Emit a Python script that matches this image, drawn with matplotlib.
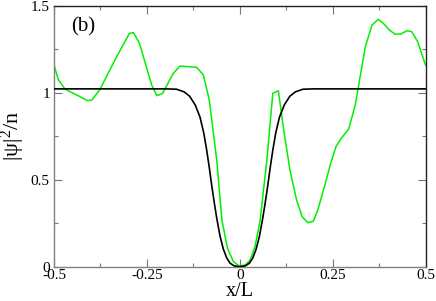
import matplotlib
matplotlib.use("Agg")
import matplotlib.pyplot as plt
from matplotlib.ticker import MultipleLocator

# Green curve (x/L, |psi|^2/n)
green_x = [-0.5, -0.488, -0.470, -0.439, -0.410, -0.398, -0.376, -0.336, -0.297, -0.286,
           -0.270, -0.237, -0.223, -0.208, -0.179, -0.161, -0.116, -0.098, -0.082, -0.062,
           -0.048, -0.033, -0.017, -0.001, 0.015, 0.028, 0.041, 0.055, 0.073, 0.089,
           0.104, 0.117, 0.135, 0.153, 0.168, 0.183, 0.198, 0.210, 0.228, 0.246,
           0.259, 0.273, 0.293, 0.311, 0.338, 0.356, 0.373, 0.385, 0.403, 0.418,
           0.434, 0.450, 0.463, 0.479, 0.5]
green_y = [1.159, 1.073, 1.020, 0.987, 0.954, 0.958, 1.020, 1.188, 1.341, 1.345,
           1.284, 1.044, 0.983, 0.995, 1.111, 1.153, 1.146, 1.102, 0.958, 0.613,
           0.268, 0.106, 0.029, 0.004, 0.010, 0.039, 0.115, 0.268, 0.613, 0.997,
           1.011, 0.805, 0.556, 0.383, 0.287, 0.253, 0.261, 0.326, 0.460, 0.603,
           0.690, 0.738, 0.790, 0.930, 1.264, 1.389, 1.422, 1.402, 1.360, 1.336,
           1.337, 1.356, 1.351, 1.293, 1.159]

# Black curve (x/L, |psi|^2/n)
black_x = [-0.5, -0.2, -0.17, -0.15, -0.135, -0.12, -0.107, -0.097, -0.089, -0.082,
           -0.075, -0.068, -0.062, -0.053, -0.044, -0.035, -0.026, -0.015, 0.0,
           0.015, 0.026, 0.035, 0.044, 0.053, 0.062, 0.068, 0.075, 0.082, 0.089,
           0.097, 0.107, 0.12, 0.135, 0.15, 0.17, 0.2, 0.5]
black_y = [1.022, 1.022, 1.020, 1.005, 0.980, 0.930, 0.860, 0.770, 0.670, 0.570,
           0.460, 0.360, 0.280, 0.175, 0.100, 0.050, 0.020, 0.005, 0.0,
           0.005, 0.020, 0.050, 0.100, 0.175, 0.280, 0.360, 0.460, 0.570, 0.670,
           0.770, 0.860, 0.930, 0.980, 1.005, 1.020, 1.022, 1.022]

x_ticks = [-0.5, -0.25, 0, 0.25, 0.5]
x_tick_labels = ["-0.5", "-0.25", "0", "0.25", "0.5"]
y_ticks = [0, 0.5, 1, 1.5]
y_tick_labels = ["0", "0.5", "1", "1.5"]

plt.rcParams['font.family'] = ['Liberation Serif', 'DejaVu Serif']
plt.rcParams['mathtext.fontset'] = 'custom'
plt.rcParams['mathtext.rm'] = 'Liberation Serif'
plt.rcParams['mathtext.it'] = 'Liberation Serif:italic'

fig = plt.figure(figsize=(4.36, 3.01), dpi=100)
ax = fig.add_axes([54/436, 1-266.7/301, (425.5-54)/436, (266.7-5.7)/301])

ax.plot(black_x, black_y, color='black', lw=1.2, zorder=3)
ax.plot(green_x, green_y, color='#00f000', lw=1.1, zorder=2)

ax.set_xlim(-0.5, 0.5)
ax.set_ylim(0, 1.5)
ax.set_xticks(x_ticks)
ax.set_xticklabels(x_tick_labels)
ax.set_yticks(y_ticks)
ax.set_yticklabels(y_tick_labels)
ax.xaxis.set_minor_locator(MultipleLocator(0.125))
ax.yaxis.set_minor_locator(MultipleLocator(0.25))
ax.tick_params(which='both', direction='in', top=True, right=True,
               labelsize=11, color='#777777', width=0.8)
ax.tick_params(which='major', length=6)
ax.tick_params(which='minor', length=3)
ax.tick_params(axis='x', pad=2)
ax.tick_params(axis='y', pad=3)

for s in ['left', 'bottom']:
    ax.spines[s].set_color('#808080')
    ax.spines[s].set_linewidth(1.0)
for s in ['top', 'right']:
    ax.spines[s].set_color('#222222')
    ax.spines[s].set_linewidth(1.0)

ax.set_xlabel('x/L', fontsize=14.5, labelpad=-0.5)
ax.set_ylabel(r'$\mathregular{|ψ|^2}$/n', fontsize=16, labelpad=3)
ax.text(0.045, 0.9, '(b)', transform=ax.transAxes, fontsize=15)

fig.savefig('out.png', dpi=100)
